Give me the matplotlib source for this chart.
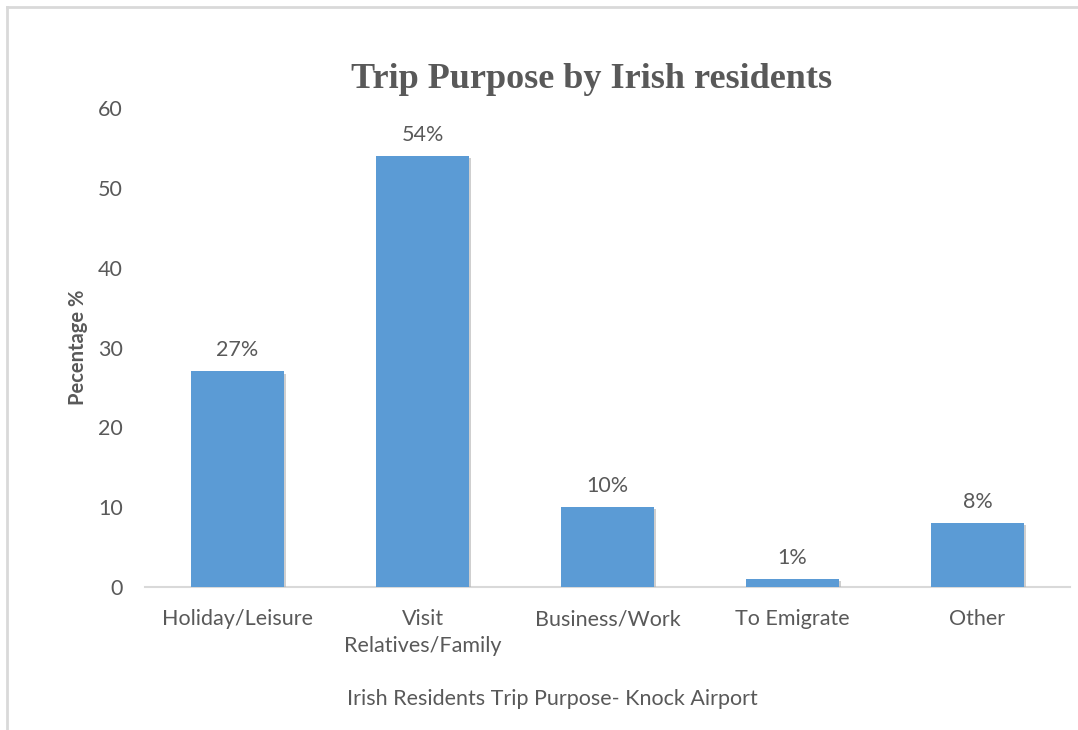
import numpy as np
import matplotlib.pyplot as plt
import matplotlib.patheffects as pe
from matplotlib.lines import Line2D

categories = ['Holiday/Leisure', 'Visit\nRelatives/Family', 'Business/Work', 'To Emigrate', 'Other']
values = [27, 54, 10, 1, 8]
labels = ['27%', '54%', '10%', '1%', '8%']

text_col = '#595959'
bar_col = '#5B9BD5'

fig = plt.figure(figsize=(10.78, 7.3), dpi=100)
ax = fig.add_axes([0.1345, 0.1959, 0.8581, 0.6561])

x = np.arange(len(categories))
bars = ax.bar(x, values, width=0.5, color=bar_col, zorder=3)
for b in bars:
    b.set_path_effects([pe.SimplePatchShadow(offset=(1.5, -1.5), shadow_rgbFace='#b0b0b0', alpha=0.6), pe.Normal()])

for xi, v, lab in zip(x, values, labels):
    ax.annotate(lab, (xi, v), xytext=(0, 8), textcoords='offset points',
                ha='center', va='bottom', fontsize=15.5, color=text_col, family='Lato')

ax.set_xlim(-0.5, len(categories) - 0.5)
ax.set_ylim(0, 60)
ax.set_yticks(range(0, 61, 10))
ax.set_xticks(x)
ax.set_xticklabels(categories, fontsize=15.5, color=text_col, family='Lato', linespacing=1.4)
ax.tick_params(axis='both', length=0, colors=text_col, labelsize=15.5)
ax.tick_params(axis='x', pad=16)
ax.tick_params(axis='y', pad=16)
for lab in ax.get_yticklabels():
    lab.set_family('Lato')

for s in ['top', 'right', 'left']:
    ax.spines[s].set_visible(False)
ax.spines['bottom'].set_color('#d9d9d9')
ax.spines['bottom'].set_linewidth(1.5)

ax.set_ylabel('Pecentage %', fontsize=14.5, color=text_col, family='Lato', fontweight='bold', labelpad=7)

fig.text(0.549, 0.891, 'Trip Purpose by Irish residents', ha='center', va='center',
         fontsize=26, fontweight='bold', family='Liberation Serif', color=text_col)
fig.text(0.512, 0.043, 'Irish Residents Trip Purpose- Knock Airport', ha='center', va='center',
         fontsize=15.5, color=text_col, family='Lato')

# chart frame (top and left edges visible)
fig.add_artist(Line2D([0.0065, 0.0065], [0.0, 0.99], transform=fig.transFigure, color='#d9d9d9', lw=2))
fig.add_artist(Line2D([0.0065, 1.0], [0.99, 0.99], transform=fig.transFigure, color='#d9d9d9', lw=2))

fig.savefig('out.png', dpi=100, facecolor='white')
